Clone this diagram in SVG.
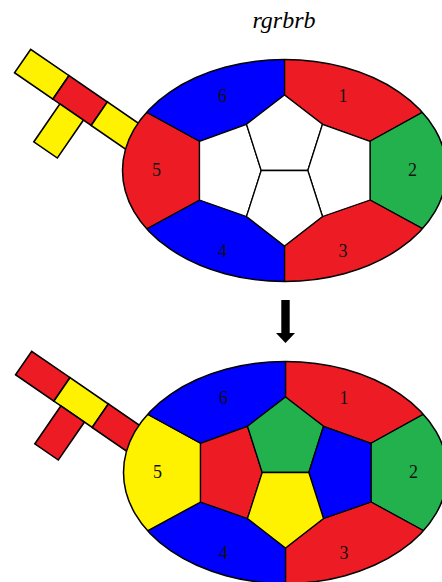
<svg xmlns="http://www.w3.org/2000/svg" xmlns:xlink="http://www.w3.org/1999/xlink" width="442" height="582" viewBox="0 0 442 582">
  <style>
    .r { fill: #ED1C24; }
    .g { fill: #22B14C; }
    .b { fill: #0000FF; }
    .y { fill: #FFF200; }
    .w { fill: #FFFFFF; }
    .cell { stroke: #000; stroke-width: 1.3; stroke-linejoin: round; }
    .sq { stroke: #000; stroke-width: 1.6; }
    .rim { fill: none; stroke: #000; stroke-width: 1.5; }
    .num { font-family: "Liberation Serif", "DejaVu Serif", serif; font-size: 18px; fill: #111; text-anchor: middle; }
    .title { font-family: "Liberation Serif", "DejaVu Serif", serif; font-style: italic; font-size: 24px; fill: #000; text-anchor: middle; }
  </style>
  <defs>
    <clipPath id="oval">
      <ellipse cx="0" cy="0" rx="162" ry="111"/>
    </clipPath>
    <!-- outer ring of six faces, coordinates relative to the oval centre -->
    <polygon id="f1" points="0,-75.5 0,-130 215,-130 215,-100.7 85.5,-29.2 38,-46.2"/>
    <polygon id="f2" points="85.5,-29.2 215,-100.7 215,100.2 85.5,29.5"/>
    <polygon id="f3" points="85.5,29.5 215,100.2 215,130 0,130 0,75.5 38,46"/>
    <polygon id="f4" points="0,75.5 0,130 -215,130 -215,100.2 -85,29.5 -38,46"/>
    <polygon id="f5" points="-85,29.5 -215,100.2 -215,-100.7 -85,-29.2"/>
    <polygon id="f6" points="-85,-29.2 -215,-100.7 -215,-130 0,-130 0,-75.5 -38,-46.2"/>
    <!-- four inner faces -->
    <polygon id="iL" points="-38,-46.2 -23.3,0 -38,46 -85,29.5 -85,-29.2"/>
    <polygon id="iT" points="0,-75.5 38,-46.2 23.3,0 -23.3,0 -38,-46.2"/>
    <polygon id="iR" points="38,-46.2 85.5,-29.2 85.5,29.5 38,46 23.3,0"/>
    <polygon id="iB" points="-23.3,0 23.3,0 38,46 0,75.5 -38,46"/>
    <!-- arm of four squares -->
    <rect id="s1" x="0" y="0" width="46.5" height="28.5"/>
    <rect id="s2" x="46.5" y="0" width="46.5" height="28.5"/>
    <rect id="s3" x="93" y="0" width="46.5" height="28.5"/>
    <rect id="s4" x="55" y="28.5" width="28.5" height="46"/>
  </defs>

  <text class="title" x="284" y="28">rgrbrb</text>

  <!-- upper figure -->
  <g id="arm-top" transform="translate(30.7,49.3) rotate(34.5)">
    <use xlink:href="#s1" class="y sq"/>
    <use xlink:href="#s2" class="r sq"/>
    <use xlink:href="#s3" class="y sq"/>
    <use xlink:href="#s4" class="y sq"/>
  </g>
  <g id="oval-top" transform="translate(284.5,170.5)">
    <g clip-path="url(#oval)">
      <use xlink:href="#f1" class="r cell"/>
      <use xlink:href="#f2" class="g cell"/>
      <use xlink:href="#f3" class="r cell"/>
      <use xlink:href="#f4" class="b cell"/>
      <use xlink:href="#f5" class="r cell"/>
      <use xlink:href="#f6" class="b cell"/>
      <use xlink:href="#iL" class="w cell"/>
      <use xlink:href="#iT" class="w cell"/>
      <use xlink:href="#iR" class="w cell"/>
      <use xlink:href="#iB" class="w cell"/>
    </g>
    <ellipse class="rim" cx="0" cy="0" rx="162" ry="111"/>
    <text class="num" x="58.5" y="-68.5">1</text>
    <text class="num" x="128" y="5.5">2</text>
    <text class="num" x="58.5" y="86">3</text>
    <text class="num" x="-62" y="86">4</text>
    <text class="num" x="-128" y="5.5">5</text>
    <text class="num" x="-62" y="-68.5">6</text>
  </g>

  <!-- arrow between the two figures -->
  <g id="arrow">
    <polygon points="281.3,300 289.7,300 289.7,333 295,333 285.5,343 276,333 281.3,333" fill="#000"/>
  </g>

  <!-- lower figure -->
  <g id="arm-bottom" transform="translate(31.7,351.3) rotate(34.5)">
    <use xlink:href="#s1" class="r sq"/>
    <use xlink:href="#s2" class="y sq"/>
    <use xlink:href="#s3" class="r sq"/>
    <use xlink:href="#s4" class="r sq"/>
  </g>
  <g id="oval-bottom" transform="translate(285.5,472.5)">
    <g clip-path="url(#oval)">
      <use xlink:href="#f1" class="r cell"/>
      <use xlink:href="#f2" class="g cell"/>
      <use xlink:href="#f3" class="r cell"/>
      <use xlink:href="#f4" class="b cell"/>
      <use xlink:href="#f5" class="y cell"/>
      <use xlink:href="#f6" class="b cell"/>
      <use xlink:href="#iL" class="r cell"/>
      <use xlink:href="#iT" class="g cell"/>
      <use xlink:href="#iR" class="b cell"/>
      <use xlink:href="#iB" class="y cell"/>
    </g>
    <ellipse class="rim" cx="0" cy="0" rx="162" ry="111"/>
    <text class="num" x="58.5" y="-68.5">1</text>
    <text class="num" x="128" y="5.5">2</text>
    <text class="num" x="58.5" y="86">3</text>
    <text class="num" x="-62" y="86">4</text>
    <text class="num" x="-128" y="5.5">5</text>
    <text class="num" x="-62" y="-68.5">6</text>
  </g>
</svg>
